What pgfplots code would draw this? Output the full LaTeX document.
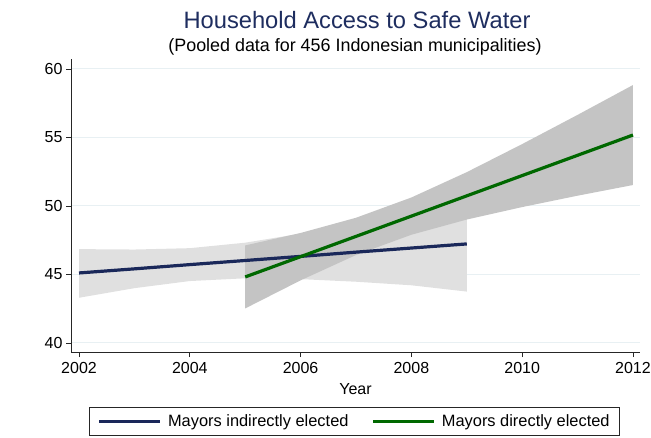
\documentclass[border=0pt]{standalone}
\usepackage{pgfplots}
\pgfplotsset{compat=1.18}
\usepackage{pgfplotstable}
\usepgfplotslibrary{fillbetween}
\usepackage{fontspec}
\setmainfont{Liberation Sans}

\definecolor{titlenavy}{RGB}{30,45,95}
\definecolor{indline}{RGB}{26,40,90}
\definecolor{dirline}{RGB}{0,104,0}
\definecolor{bandlight}{RGB}{224,224,224}
\definecolor{banddark}{RGB}{196,196,196}
\definecolor{gridblue}{RGB}{232,240,243}

% Linear fit and 95% confidence band, mayors indirectly elected
\pgfplotstableread{
year fit lo hi
2002 45.11 43.30 46.85
2003 45.41 44.00 46.82
2004 45.72 44.52 46.92
2005 46.02 44.72 47.32
2006 46.32 44.66 47.98
2007 46.63 44.47 48.79
2008 46.93 44.21 49.65
2009 47.23 43.75 50.71
}\indirect

% Linear fit and 95% confidence band, mayors directly elected
\pgfplotstableread{
year fit lo hi
2005 44.82 42.52 47.12
2006 46.30 44.57 48.03
2007 47.78 46.42 49.14
2008 49.26 47.90 50.62
2009 50.74 49.01 52.47
2010 52.22 49.92 54.52
2011 53.70 50.75 56.65
2012 55.18 51.53 58.83
}\direct

\begin{document}
\begin{tikzpicture}[x=1pt,y=1pt]
\begin{axis}[
  at={(71pt,85pt)}, anchor=south west,
  scale only axis, width=569pt, height=293pt,
  xmin=2001.855, xmax=2012.127, ymin=39.34, ymax=60.73,
  axis lines*=left,
  axis line style={black!85, line width=0.8pt},
  xtick={2002,2004,...,2012}, ytick={40,45,...,60},
  tick align=outside, major tick length=5pt,
  tick style={black!85, line width=0.7pt},
  ymajorgrids, grid style={gridblue, line width=1pt},
  /pgf/number format/assume math mode=true,
  xticklabel style={/pgf/number format/1000 sep={}, yshift=-2pt},
  ticklabel style={font=\fontsize{16}{18}\selectfont},
  xlabel={Year}, xlabel style={font=\fontsize{16}{18}\selectfont, yshift=-3pt},
  clip=false,
  legend columns=2,
  legend image code/.code={\draw[#1, line width=3.4pt] (0pt,0pt) -- (61pt,0pt);},
  legend style={at={(0.4985,-0.2867)}, anchor=south, draw=black!85, line width=0.8pt,
    font=\fontsize{16.4}{18}\selectfont, inner xsep=8pt, inner ysep=5.5pt,
    /tikz/every odd column/.append style={column sep=4pt},
    /tikz/every even column/.append style={column sep=21pt}},
  legend cell align=left,
]
  \addplot[draw=none, name path=iu, forget plot] table[x=year, y=hi] {\indirect};
  \addplot[draw=none, name path=il, forget plot] table[x=year, y=lo] {\indirect};
  \addplot[bandlight, forget plot] fill between[of=iu and il];
  \addplot[indline, line width=3.2pt] table[x=year, y=fit] {\indirect};
  \addlegendentry{Mayors indirectly elected}

  \addplot[draw=none, name path=du, forget plot] table[x=year, y=hi] {\direct};
  \addplot[draw=none, name path=dl, forget plot] table[x=year, y=lo] {\direct};
  \addplot[banddark, forget plot] fill between[of=du and dl];
  \addplot[dirline, line width=3.2pt] table[x=year, y=fit] {\direct};
  \addlegendentry{Mayors directly elected}
\end{axis}
\node[anchor=base, text=titlenavy, font=\fontsize{23.7}{26}\selectfont] at (357,408) {Household Access to Safe Water};
\node[anchor=base, font=\fontsize{17.9}{20}\selectfont] at (355,385) {(Pooled data for 456 Indonesian municipalities)};
\pgfresetboundingbox
\path[use as bounding box] (0,0) rectangle (651,437);
\end{tikzpicture}
\end{document}
